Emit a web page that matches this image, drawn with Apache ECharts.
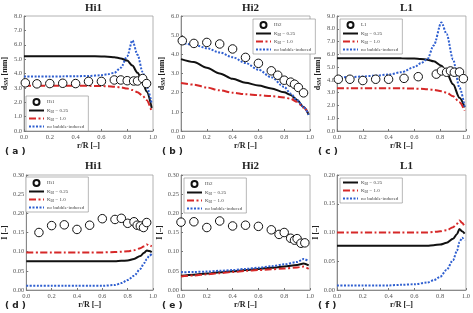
<!DOCTYPE html>
<html>
<head>
    <meta charset="utf-8">
    <title>dSM and I profiles</title>
    <script src="https://cdn.jsdelivr.net/npm/echarts@6/dist/echarts.min.js"></script>
    <style>
        html, body { margin: 0; padding: 0; background: #fff; }
    </style>
</head>
<body>
    <div id="main" style="width: 473px;height:313px;"></div>

    <script>
        // 面板标题与标记
        var panelTitles = ['Hi1', 'Hi2', 'L1', 'Hi1', 'Hi2', 'L1']
        var panelTags = ['( a )', '( b )', '( c )', '( d )', '( e )', '( f )']
        var yMaxes = [8, 6, 9, 0.3, 0.3, 0.2]
        var yIntervals = [1, 1, 1, 0.05, 0.05, 0.05]

        // (a) Hi1 dSM
        var rExpA = [0.01, 0.1, 0.2, 0.3, 0.4, 0.5, 0.6, 0.7, 0.75, 0.8, 0.85, 0.88, 0.92, 0.95]
        var dExpA = [3.35, 3.28, 3.3, 3.32, 3.3, 3.45, 3.45, 3.55, 3.55, 3.5, 3.48, 3.48, 3.65, 3.3]
        var rA = [0, 0.1, 0.2, 0.3, 0.4, 0.5, 0.6, 0.65, 0.7, 0.75, 0.8, 0.84, 0.88, 0.92, 0.95, 0.99]
        var blackA = [5.2, 5.2, 5.2, 5.2, 5.2, 5.2, 5.19, 5.17, 5.13, 5.05, 4.9, 4.55, 4.05, 3.4, 2.75, 1.6]
        var redA = [3.15, 3.15, 3.15, 3.15, 3.15, 3.14, 3.13, 3.11, 3.08, 3.03, 2.95, 2.85, 2.7, 2.45, 2.15, 1.35]
        var blueA = [3.8, 3.8, 3.8, 3.8, 3.81, 3.83, 3.88, 3.95, 4.05, 4.4, 5.2, 6.3, 5.3, 4.1, 3.1, 1.9]

        // (b) Hi2 dSM
        var rExpB = [0.01, 0.1, 0.2, 0.3, 0.4, 0.5, 0.6, 0.7, 0.75, 0.8, 0.85, 0.88, 0.91, 0.95]
        var dExpB = [4.71, 4.57, 4.62, 4.54, 4.28, 3.84, 3.53, 3.14, 2.91, 2.65, 2.55, 2.44, 2.27, 1.99]
        var rB = [0, 0.1, 0.2, 0.3, 0.4, 0.5, 0.6, 0.7, 0.8, 0.85, 0.9, 0.95, 0.99]
        var blackB = [3.75, 3.6, 3.3, 3.0, 2.72, 2.52, 2.37, 2.22, 2.02, 1.88, 1.62, 1.25, 0.85]
        var redB = [2.5, 2.42, 2.27, 2.12, 2.0, 1.92, 1.87, 1.82, 1.75, 1.68, 1.52, 1.22, 0.9]
        var blueB = [4.6, 4.5, 4.32, 4.1, 3.85, 3.55, 3.2, 2.8, 2.3, 1.95, 1.6, 1.25, 0.85]

        // (c) L1 dSM
        var rExpC = [0.01, 0.1, 0.2, 0.3, 0.4, 0.52, 0.63, 0.77, 0.81, 0.85, 0.88, 0.91, 0.95, 0.98]
        var dExpC = [4.05, 4.05, 3.95, 4.05, 4.05, 4.12, 4.25, 4.45, 4.7, 4.6, 4.7, 4.6, 4.62, 4.1]
        var rC = [0, 0.1, 0.2, 0.3, 0.4, 0.5, 0.6, 0.65, 0.7, 0.75, 0.81, 0.85, 0.9, 0.95, 0.99]
        var blackC = [5.7, 5.7, 5.7, 5.7, 5.7, 5.69, 5.67, 5.64, 5.58, 5.45, 5.1, 4.55, 3.65, 2.6, 1.85]
        var redC = [3.35, 3.35, 3.35, 3.35, 3.35, 3.34, 3.32, 3.3, 3.27, 3.22, 3.12, 3.0, 2.72, 2.25, 1.6]
        var blueC = [4.2, 4.22, 4.27, 4.33, 4.42, 4.6, 5.0, 5.3, 5.6, 6.7, 8.5, 7.6, 5.6, 3.4, 1.9]

        // (d) Hi1 I
        var rExpD = [0.1, 0.2, 0.3, 0.4, 0.5, 0.6, 0.7, 0.75, 0.8, 0.85, 0.875, 0.9, 0.925, 0.95]
        var iExpD = [0.15, 0.168, 0.17, 0.158, 0.169, 0.186, 0.184, 0.187, 0.174, 0.178, 0.169, 0.167, 0.163, 0.176]
        var rD = [0, 0.1, 0.2, 0.3, 0.4, 0.5, 0.6, 0.7, 0.75, 0.8, 0.85, 0.9, 0.93, 0.95, 0.97, 0.99]
        var blackD = [0.075, 0.075, 0.075, 0.075, 0.075, 0.075, 0.075, 0.075, 0.076, 0.077, 0.081, 0.089, 0.097, 0.103, 0.102, 0.099]
        var redD = [0.098, 0.098, 0.098, 0.098, 0.098, 0.098, 0.098, 0.099, 0.1, 0.101, 0.104, 0.109, 0.114, 0.119, 0.116, 0.114]
        var blueD = [0.011, 0.011, 0.011, 0.011, 0.011, 0.011, 0.011, 0.013, 0.018, 0.026, 0.037, 0.055, 0.07, 0.08, 0.089, 0.094]

        // (e) Hi2 I
        var rExpE = [0.0, 0.1, 0.2, 0.3, 0.4, 0.5, 0.6, 0.7, 0.76, 0.8, 0.85, 0.88, 0.9, 0.93, 0.96]
        var iExpE = [0.177, 0.178, 0.163, 0.18, 0.167, 0.169, 0.166, 0.157, 0.145, 0.15, 0.135, 0.13, 0.134, 0.122, 0.123]
        var rE = [0, 0.1, 0.2, 0.3, 0.4, 0.5, 0.6, 0.7, 0.8, 0.9, 0.95, 0.99]
        var blackE = [0.037, 0.04, 0.043, 0.046, 0.049, 0.052, 0.055, 0.058, 0.061, 0.065, 0.069, 0.064]
        var redE = [0.035, 0.038, 0.041, 0.044, 0.047, 0.05, 0.052, 0.054, 0.056, 0.059, 0.061, 0.055]
        var blueE = [0.046, 0.047, 0.048, 0.05, 0.052, 0.055, 0.058, 0.062, 0.067, 0.073, 0.081, 0.075]

        // (f) L1 I
        var rF = [0, 0.1, 0.2, 0.3, 0.4, 0.5, 0.6, 0.7, 0.75, 0.8, 0.85, 0.9, 0.93, 0.95, 0.97, 0.99]
        var blackF = [0.077, 0.077, 0.077, 0.077, 0.077, 0.077, 0.077, 0.077, 0.078, 0.079, 0.082, 0.089, 0.097, 0.106, 0.102, 0.098]
        var redF = [0.1, 0.1, 0.1, 0.1, 0.1, 0.1, 0.1, 0.1, 0.101, 0.102, 0.104, 0.109, 0.115, 0.121, 0.117, 0.11]
        var blueF = [0.008, 0.008, 0.008, 0.008, 0.008, 0.009, 0.01, 0.013, 0.017, 0.023, 0.035, 0.052, 0.068, 0.083, 0.091, 0.086]

        var SERIF = "'Liberation Serif', 'DejaVu Serif', serif"
        var K1 = 'K_BI = 0.25'
        var K2 = 'K_BI = 1.0'
        var NB = 'no bubble-induced'

        // 布局
        var gridLefts = [24, 181, 337]
        var gridTops = [16, 175]
        var gridW = 129
        var gridH = 115

        function zip(r, v) {
            return r.map(function (x, i) { return [x, v[i]] })
        }

        var grids = [], xAxes = [], yAxes = [], titles = [], legends = [], graphics = []
        for (var i = 0; i < 6; i++) {
            var col = i % 3, row = Math.floor(i / 3)
            grids.push({
                left: gridLefts[col], top: gridTops[row], width: gridW, height: gridH,
                show: true, borderColor: '#a0a0a0', borderWidth: 0.8, backgroundColor: 'transparent'
            })
            xAxes.push({
                gridIndex: i, type: 'value', min: 0, max: 1, interval: 0.2,
                name: 'r/R [–]', nameLocation: 'middle', nameGap: 10,
                nameTextStyle: { fontFamily: SERIF, fontWeight: 'bold', fontSize: 8, color: '#222' },
                axisLine: { lineStyle: { color: '#777', width: 0.8 } },
                axisTick: { inside: true, length: 2, lineStyle: { color: '#777' } },
                splitLine: { show: false },
                axisLabel: {
                    fontFamily: SERIF, fontSize: 6.5, color: '#555', margin: 3,
                    formatter: function (v) { return v.toFixed(1) }
                }
            })
            var dec = row === 0 ? 1 : 2
            yAxes.push({
                gridIndex: i, type: 'value', min: 0, max: yMaxes[i], interval: yIntervals[i],
                name: row === 0 ? '{b|d}{s|SM}{b| [mm]}' : '{b|I [–]}',
                nameLocation: 'middle', nameGap: row === 0 ? 12 : 13,
                nameTextStyle: {
                    rich: {
                        b: { fontFamily: SERIF, fontWeight: 'bold', fontSize: 8, color: '#222' },
                        s: { fontFamily: SERIF, fontWeight: 'bold', fontSize: 5.5, color: '#222', padding: [4, 0, 0, 0] }
                    }
                },
                axisLine: { show: true, lineStyle: { color: '#777', width: 0.8 } },
                axisTick: { show: true, inside: true, length: 2, lineStyle: { color: '#777' } },
                splitLine: { show: false },
                axisLabel: {
                    fontFamily: SERIF, fontSize: 6.5, color: '#555', margin: 2,
                    formatter: (function (d) { return function (v) { return v.toFixed(d) } })(dec)
                }
            })
            titles.push({
                text: panelTitles[i], left: gridLefts[col] + gridW / 2, textAlign: 'center',
                top: row === 0 ? -2 : 156,
                textStyle: { fontFamily: SERIF, fontWeight: 'bold', fontSize: 11, color: '#222' }
            })
            graphics.push({
                type: 'text', left: gridLefts[col] - 19, top: row === 0 ? 147 : 301,
                style: { text: panelTags[i], font: 'bold 9px "DejaVu Sans", sans-serif', fill: '#222' }
            })
        }

        // 图例（线条项隐藏圆点）
        var legendPos = [[26, 96], [253, 19], [340, 19], [26, 177], [184, 178], [340, 178]]
        var expNames = ['Hi1', 'Hi2', 'L1', 'Hi1', 'Hi2', null]
        function lineItem(name) { return { name: name, itemStyle: { opacity: 0 } } }
        for (var j = 0; j < 6; j++) {
            var items = [lineItem(K1), lineItem(K2), lineItem(NB)]
            if (expNames[j]) items.unshift(expNames[j])
            legends.push({
                left: legendPos[j][0], top: legendPos[j][1], orient: 'vertical',
                data: items, itemWidth: 15, itemHeight: 6, itemGap: 2,
                padding: [2, 4, 2, 2], borderColor: '#888', borderWidth: 0.6, borderRadius: 0,
                backgroundColor: '#fff', selectedMode: false,
                formatter: function (name) { return name.replace('K_BI', 'K{s|BI}') },
                textStyle: {
                    fontFamily: SERIF, fontSize: 5, color: '#444', padding: [0, 0, 0, -2],
                    rich: { s: { fontFamily: SERIF, fontSize: 3.5, color: '#444', padding: [3, 0, 0, 0] } }
                }
            })
        }

        // 实验点：白底黑边空心圆
        function expSeries(name, idx, r, v) {
            return {
                name: name, type: 'scatter', xAxisIndex: idx, yAxisIndex: idx,
                data: zip(r, v), symbol: 'circle', symbolSize: 8.5, z: 5,
                itemStyle: { color: '#fff', borderColor: '#111', borderWidth: 1, opacity: 1 }
            }
        }
        function lineSeries(name, idx, r, v, color, width, type) {
            return {
                name: name, type: 'line', xAxisIndex: idx, yAxisIndex: idx, data: zip(r, v),
                showSymbol: false, symbol: 'none', smooth: 0.3, smoothMonotone: 'x',
                lineStyle: { color: color, width: width, type: type }, color: color
            }
        }
        function blackSeries(idx, r, v) { return lineSeries(K1, idx, r, v, '#111', 2, 'solid') }
        function redSeries(idx, r, v) { return lineSeries(K2, idx, r, v, '#d62828', 2, [7, 2.5, 2, 2.5]) }
        function blueSeries(idx, r, v) { return lineSeries(NB, idx, r, v, '#2f5fd0', 2, [2, 1.5]) }

        var series = [
            blackSeries(0, rA, blackA), redSeries(0, rA, redA), blueSeries(0, rA, blueA), expSeries('Hi1', 0, rExpA, dExpA),
            blackSeries(1, rB, blackB), redSeries(1, rB, redB), blueSeries(1, rB, blueB), expSeries('Hi2', 1, rExpB, dExpB),
            blackSeries(2, rC, blackC), redSeries(2, rC, redC), blueSeries(2, rC, blueC), expSeries('L1', 2, rExpC, dExpC),
            blackSeries(3, rD, blackD), redSeries(3, rD, redD), blueSeries(3, rD, blueD), expSeries('Hi1', 3, rExpD, iExpD),
            blackSeries(4, rE, blackE), redSeries(4, rE, redE), blueSeries(4, rE, blueE), expSeries('Hi2', 4, rExpE, iExpE),
            blackSeries(5, rF, blackF), redSeries(5, rF, redF), blueSeries(5, rF, blueF)
        ]

        var myChart = echarts.init(document.getElementById('main'))
        myChart.setOption({
            animation: false,
            backgroundColor: '#fff',
            title: titles,
            legend: legends,
            grid: grids,
            xAxis: xAxes,
            yAxis: yAxes,
            graphic: graphics,
            series: series
        })
    </script>
</body>
</html>
